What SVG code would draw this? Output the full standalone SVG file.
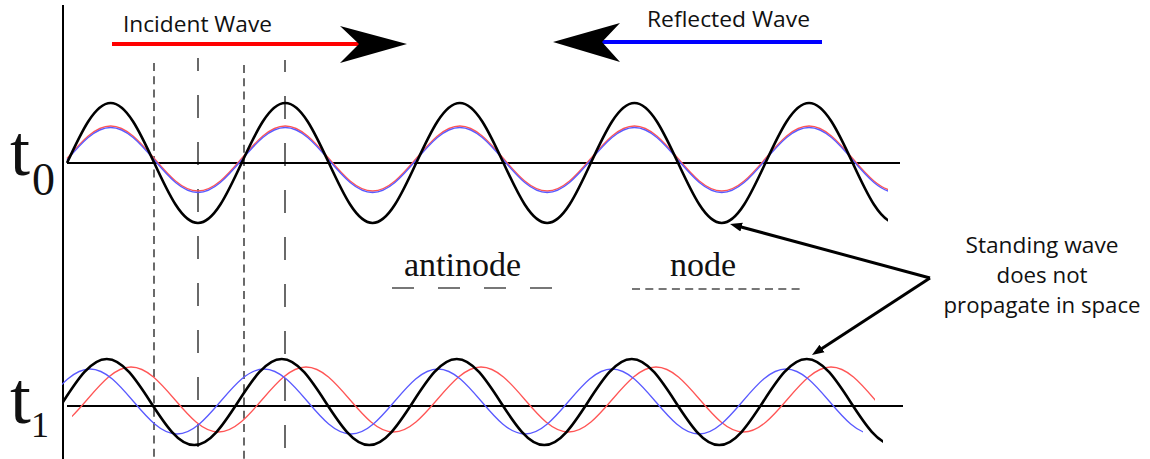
<svg xmlns="http://www.w3.org/2000/svg" width="1150" height="459" viewBox="0 0 1150 459">
<style>
.sans{font-family:"Open Sans","Liberation Sans",sans-serif;font-size:21px;fill:#111}
.serif{font-family:"Liberation Serif","Times New Roman",serif;fill:#111}
.blk{fill:none;stroke:#000;stroke-width:2.6}
.red{fill:none;stroke:#ff5555;stroke-width:1.3}
.blue{fill:none;stroke:#5a5aff;stroke-width:1.3}
.base{stroke:#000;stroke-width:2}
.node{stroke:#5a5a5a;stroke-width:1.8;stroke-dasharray:8 5.3}
.anti{stroke:#5a5a5a;stroke-width:1.8;stroke-dasharray:23 24}
.ptr{stroke:#000;stroke-width:3;fill:none;marker-end:url(#ah)}
</style>
<defs>
<marker id="ah" viewBox="0 0 10 10" refX="2" refY="5" markerWidth="4" markerHeight="4" orient="auto">
<path d="M0,1.2 L10,5 L0,8.8 z" fill="#000"/>
</marker>
<clipPath id="c0" clipPathUnits="userSpaceOnUse"><rect x="66" y="80" width="822" height="160"/></clipPath>
<clipPath id="cb1" clipPathUnits="userSpaceOnUse"><rect x="63" y="340" width="820" height="119"/></clipPath>
<clipPath id="cu1" clipPathUnits="userSpaceOnUse"><rect x="62" y="340" width="801" height="119"/></clipPath>
<clipPath id="cr1" clipPathUnits="userSpaceOnUse"><rect x="72" y="340" width="803" height="119"/></clipPath>
</defs>
<rect width="1150" height="459" fill="#fff"/>

<g id="axis">
<line x1="63" y1="5" x2="63" y2="459" stroke="#000" stroke-width="2"/>
</g>

<g id="guides">
<line class="node" x1="154" y1="63" x2="154" y2="459"/>
<line class="node" x1="244" y1="65" x2="244" y2="459"/>
<line class="anti" x1="198" y1="58" x2="198" y2="459" stroke-dashoffset="10"/>
<line class="anti" x1="285" y1="60" x2="285" y2="459" stroke-dashoffset="11"/>
</g>

<g id="wave-t0">
<line class="base" x1="67" y1="163" x2="900" y2="163"/>
<g clip-path="url(#c0)">
<path class="red" d="M67,158.5 c14.23,-16.65 27.85,-32.5 43.65,-32.5 s29.42,15.85 43.65,32.5 s27.85,32.5 43.65,32.5 s29.42,-15.85 43.65,-32.5 s27.85,-32.5 43.65,-32.5 s29.42,15.85 43.65,32.5 s27.85,32.5 43.65,32.5 s29.42,-15.85 43.65,-32.5 s27.85,-32.5 43.65,-32.5 s29.42,15.85 43.65,32.5 s27.85,32.5 43.65,32.5 s29.42,-15.85 43.65,-32.5 s27.85,-32.5 43.65,-32.5 s29.42,15.85 43.65,32.5 s27.85,32.5 43.65,32.5 s29.42,-15.85 43.65,-32.5 s27.85,-32.5 43.65,-32.5 s29.42,15.85 43.65,32.5 s27.85,32.5 43.65,32.5 s29.42,-15.85 43.65,-32.5"/>
<path class="blue" d="M67,160 c14.23,-16.65 27.85,-32.5 43.65,-32.5 s29.42,15.85 43.65,32.5 s27.85,32.5 43.65,32.5 s29.42,-15.85 43.65,-32.5 s27.85,-32.5 43.65,-32.5 s29.42,15.85 43.65,32.5 s27.85,32.5 43.65,32.5 s29.42,-15.85 43.65,-32.5 s27.85,-32.5 43.65,-32.5 s29.42,15.85 43.65,32.5 s27.85,32.5 43.65,32.5 s29.42,-15.85 43.65,-32.5 s27.85,-32.5 43.65,-32.5 s29.42,15.85 43.65,32.5 s27.85,32.5 43.65,32.5 s29.42,-15.85 43.65,-32.5 s27.85,-32.5 43.65,-32.5 s29.42,15.85 43.65,32.5 s27.85,32.5 43.65,32.5 s29.42,-15.85 43.65,-32.5"/>
<path class="blk" d="M67,163 c14.23,-30.74 27.85,-60 43.65,-60 s29.42,29.26 43.65,60 s27.85,60 43.65,60 s29.42,-29.26 43.65,-60 s27.85,-60 43.65,-60 s29.42,29.26 43.65,60 s27.85,60 43.65,60 s29.42,-29.26 43.65,-60 s27.85,-60 43.65,-60 s29.42,29.26 43.65,60 s27.85,60 43.65,60 s29.42,-29.26 43.65,-60 s27.85,-60 43.65,-60 s29.42,29.26 43.65,60 s27.85,60 43.65,60 s29.42,-29.26 43.65,-60 s27.85,-60 43.65,-60 s29.42,29.26 43.65,60 s27.85,60 43.65,60 s29.42,-29.26 43.65,-60"/>
</g>
</g>

<g id="wave-t1">
<line class="base" x1="67" y1="406" x2="903" y2="406"/>
<path class="red" clip-path="url(#cr1)" d="M43.5,432 c15.83,0 29.48,-15.85 43.75,-32.5 s27.92,-32.5 43.75,-32.5 s29.48,15.85 43.75,32.5 s27.92,32.5 43.75,32.5 s29.48,-15.85 43.75,-32.5 s27.92,-32.5 43.75,-32.5 s29.48,15.85 43.75,32.5 s27.92,32.5 43.75,32.5 s29.48,-15.85 43.75,-32.5 s27.92,-32.5 43.75,-32.5 s29.48,15.85 43.75,32.5 s27.92,32.5 43.75,32.5 s29.48,-15.85 43.75,-32.5 s27.92,-32.5 43.75,-32.5 s29.48,15.85 43.75,32.5 s27.92,32.5 43.75,32.5 s29.48,-15.85 43.75,-32.5 s27.92,-32.5 43.75,-32.5 s29.48,15.85 43.75,32.5 s27.92,32.5 43.75,32.5"/>
<path class="blue" clip-path="url(#cu1)" d="M46.5,401.5 c14.19,-16.65 27.76,-32.5 43.5,-32.5 s29.31,15.85 43.5,32.5 s27.76,32.5 43.5,32.5 s29.31,-15.85 43.5,-32.5 s27.76,-32.5 43.5,-32.5 s29.31,15.85 43.5,32.5 s27.76,32.5 43.5,32.5 s29.31,-15.85 43.5,-32.5 s27.76,-32.5 43.5,-32.5 s29.31,15.85 43.5,32.5 s27.76,32.5 43.5,32.5 s29.31,-15.85 43.5,-32.5 s27.76,-32.5 43.5,-32.5 s29.31,15.85 43.5,32.5 s27.76,32.5 43.5,32.5 s29.31,-15.85 43.5,-32.5 s27.76,-32.5 43.5,-32.5 s29.31,15.85 43.5,32.5 s27.76,32.5 43.5,32.5 s29.31,-15.85 43.5,-32.5"/>
<path class="blk" clip-path="url(#cb1)" d="M63,402 c14.27,-22.03 27.92,-43 43.75,-43 s29.48,20.97 43.75,43 s27.92,43 43.75,43 s29.48,-20.97 43.75,-43 s27.92,-43 43.75,-43 s29.48,20.97 43.75,43 s27.92,43 43.75,43 s29.48,-20.97 43.75,-43 s27.92,-43 43.75,-43 s29.48,20.97 43.75,43 s27.92,43 43.75,43 s29.48,-20.97 43.75,-43 s27.92,-43 43.75,-43 s29.48,20.97 43.75,43 s27.92,43 43.75,43 s29.48,-20.97 43.75,-43 s27.92,-43 43.75,-43 s29.48,20.97 43.75,43 s27.92,43 43.75,43 s29.48,-20.97 43.75,-43"/>
</g>

<g id="incident">
<line x1="112" y1="44" x2="360" y2="44" stroke="#ff0000" stroke-width="4"/>
<polygon points="407,44 340,26 359,44 340,63" fill="#000"/>
<text class="sans" x="123" y="32" textLength="149" lengthAdjust="spacingAndGlyphs">Incident Wave</text>
</g>

<g id="reflected">
<line x1="601" y1="42" x2="822" y2="42" stroke="#0000ff" stroke-width="4"/>
<polygon points="553,42 620,23 602,42 620,62" fill="#000"/>
<text class="sans" x="647" y="27" textLength="163" lengthAdjust="spacingAndGlyphs">Reflected Wave</text>
</g>

<g id="label-t0">
<text class="serif" x="10" y="175" font-size="72">t</text>
<text class="serif" x="32" y="195" font-size="46">0</text>
</g>
<g id="label-t1">
<text class="serif" x="10" y="423" font-size="75">t</text>
<text class="serif" x="31" y="437" font-size="36">1</text>
</g>

<g id="legend-antinode">
<text class="serif" x="404" y="276" font-size="34">antinode</text>
<line x1="392" y1="288" x2="553" y2="288" stroke="#777" stroke-width="2" stroke-dasharray="22 24"/>
</g>
<g id="legend-node">
<text class="serif" x="670" y="276" font-size="34">node</text>
<line x1="632" y1="289" x2="803" y2="289" stroke="#777" stroke-width="1.8" stroke-dasharray="8 5.3"/>
</g>

<g id="note">
<text class="sans" text-anchor="middle" x="1042" y="253" textLength="153" lengthAdjust="spacingAndGlyphs">Standing wave</text>
<text class="sans" text-anchor="middle" x="1042" y="283" textLength="91" lengthAdjust="spacingAndGlyphs">does not</text>
<text class="sans" text-anchor="middle" x="1042" y="313" textLength="197" lengthAdjust="spacingAndGlyphs">propagate in space</text>
</g>

<g id="connectors">
<line class="ptr" x1="930" y1="278" x2="739.3" y2="226.5"/>
<line class="ptr" x1="930" y1="278" x2="820" y2="349.8"/>
</g>
</svg>
